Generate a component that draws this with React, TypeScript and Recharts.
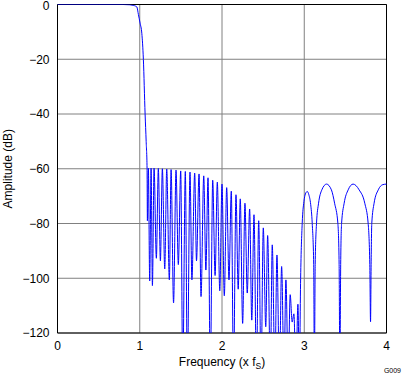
import React from "react";
import {
  LineChart,
  Line,
  XAxis,
  YAxis,
  CartesianGrid,
  ReferenceArea,
} from "recharts";

// passband and transition edge
const passFreq = [0, 0.5, 0.8, 0.88, 0.92, 0.95, 0.965, 0.984, 1.004, 1.025, 1.044, 1.065, 1.078, 1.089, 1.093];
const passDb = [0, 0, 0, -0.1, -0.3, -0.6, -0.9, -3.7, -6.8, -10.5, -20, -40, -50, -60, -79];

// stopband side-lobe tops
const peakFreq = [
  1.105, 1.138, 1.174, 1.226, 1.275, 1.328, 1.381, 1.441, 1.498, 1.554, 1.611, 1.668,
  1.721, 1.778, 1.83, 1.887, 1.943, 2.0, 2.057, 2.113, 2.17, 2.222, 2.279, 2.336,
  2.389, 2.446, 2.502, 2.555, 2.611, 2.668, 2.725, 2.777, 2.829, 2.874, 2.923,
];
const peakDb = [
  -59.8, -59.8, -59.8, -59.9, -60.0, -60.1, -60.3, -60.5, -60.8, -61.0, -61.2, -61.6,
  -61.9, -62.6, -63.3, -64.2, -64.9, -65.6, -66.9, -68.2, -69.5, -71.0, -72.6, -74.7,
  -76.8, -79.0, -81.6, -84.4, -87.8, -91.5, -95.7, -100.6, -106.0, -113.0, -109.5,
];

// stopband nulls (values below -120 run off the bottom of the plot)
const nullFreq = [
  1.121, 1.154, 1.202, 1.251, 1.304, 1.36, 1.411, 1.469, 1.523, 1.579, 1.634, 1.69,
  1.745, 1.804, 1.858, 1.916, 1.973, 2.028, 2.085, 2.14, 2.197, 2.251, 2.307, 2.362,
  2.419, 2.475, 2.532, 2.588, 2.643, 2.698, 2.754, 2.805, 2.853, 2.899, 2.941,
];
const nullDb = [
  -101, -102.7, -92.7, -93.6, -96.6, -100.6, -109, -95, -135, -135, -100.6, -93.6,
  -106.7, -97, -135, -99, -104.6, -106.4, -100.6, -135, -104, -116.5, -105.4, -115.3,
  -135, -135, -117.7, -135, -135, -135, -135, -135, -116, -135, -135,
];

// image lobes above 3 x fS
const imageFreq = [
  2.956, 2.975, 2.996, 3.014, 3.036, 3.056, 3.078, 3.097, 3.115, 3.123, 3.133, 3.149,
  3.174, 3.214, 3.271, 3.33, 3.369, 3.409, 3.424, 3.433, 3.443, 3.454, 3.485, 3.534,
  3.594, 3.667, 3.736, 3.777, 3.797, 3.806, 3.813, 3.821, 3.849, 3.9, 3.955, 4.0,
];
const imageDb = [
  -100, -80, -72, -69.2, -68.3, -69.5, -73, -80, -95, -135, -95, -80,
  -72.6, -67.7, -65.6, -67.7, -72.6, -80, -95, -135, -95, -80, -72.6, -67.7,
  -65.6, -67.7, -72.6, -80, -95, -115.9, -95, -80, -72.6, -67.7, -65.8, -65.6,
];

const xTicks = [0, 1, 2, 3, 4];
const yTicks = [-120, -100, -80, -60, -40, -20, 0];

const toRows = (fs: number[], ds: number[]) => fs.map((f, i) => ({ f, db: ds[i] }));

const data = [
  ...toRows(passFreq, passDb),
  ...toRows(peakFreq, peakDb),
  ...toRows(nullFreq, nullDb),
  ...toRows(imageFreq, imageDb),
].sort((a, b) => a.f - b.f);

const FONT = "'Liberation Sans', Arial, Helvetica, sans-serif";

const fmtY = (v: number) => (v < 0 ? "\u2212" + Math.abs(v) : String(v));

// y tick text; the top one sits a touch lower so it isn't clipped by the page edge
const YTick = (props: any) => {
  const { x, y, payload } = props;
  const yy = payload.value === 0 ? Math.max(y, 5.5) : y;
  return (
    <text x={x} y={yy} dy="0.355em" textAnchor="end" fontSize={12} fontFamily={FONT} fill="#000">
      {fmtY(payload.value)}
    </text>
  );
};

const XLabel = (props: any) => {
  const vb = props.viewBox || { x: 57.5, y: 333, width: 329, height: 44 };
  return (
    <text x={vb.x + vb.width / 2} y={366} textAnchor="middle" fontSize={12} fontFamily={FONT} fill="#000">
      Frequency (x f
      <tspan fontSize={8.5} dy={2.5}>S</tspan>
      <tspan dy={-2.5}>)</tspan>
    </text>
  );
};

const YLabel = (props: any) => {
  const vb = props.viewBox || { x: 0, y: 4.5, width: 57.5, height: 328.5 };
  const cy = vb.y + vb.height / 2;
  return (
    <text
      x={12}
      y={cy}
      transform={`rotate(-90, 12, ${cy})`}
      textAnchor="middle"
      fontSize={12}
      fontFamily={FONT}
      fill="#000"
    >
      Amplitude (dB)
    </text>
  );
};

export default function App() {
  return (
    <div style={{ position: "absolute", left: 0, top: 0, width: 402, height: 377, background: "#fff" }}>
      <LineChart width={402} height={377} data={data} margin={{ top: 4.5, right: 15.5, bottom: 0, left: 0 }}>
        <CartesianGrid stroke="#808080" strokeWidth={1} />
        <XAxis
          type="number"
          dataKey="f"
          domain={[0, 4]}
          ticks={xTicks}
          interval={0}
          height={44}
          tickLine={false}
          axisLine={false}
          tick={{ fill: "#000", fontSize: 12, fontFamily: FONT }}
          label={XLabel}
        />
        <YAxis
          type="number"
          domain={[-120, 0]}
          ticks={yTicks}
          interval={0}
          allowDataOverflow
          width={57.5}
          tickLine={false}
          axisLine={false}
          tick={YTick}
          label={YLabel}
        />
        <Line
          type="monotone"
          dataKey="db"
          stroke="#0000ff"
          strokeWidth={1}
          dot={false}
          activeDot={false}
          isAnimationActive={false}
        />
        <ReferenceArea x1={0} x2={4} y1={-120} y2={0} fill="none" stroke="#000" strokeWidth={1} />
      </LineChart>
      <div
        style={{
          position: "absolute",
          right: 1,
          top: 367,
          fontSize: 7,
          fontFamily: FONT,
          color: "#000",
          lineHeight: "8px",
        }}
      >
        G009
      </div>
    </div>
  );
}
